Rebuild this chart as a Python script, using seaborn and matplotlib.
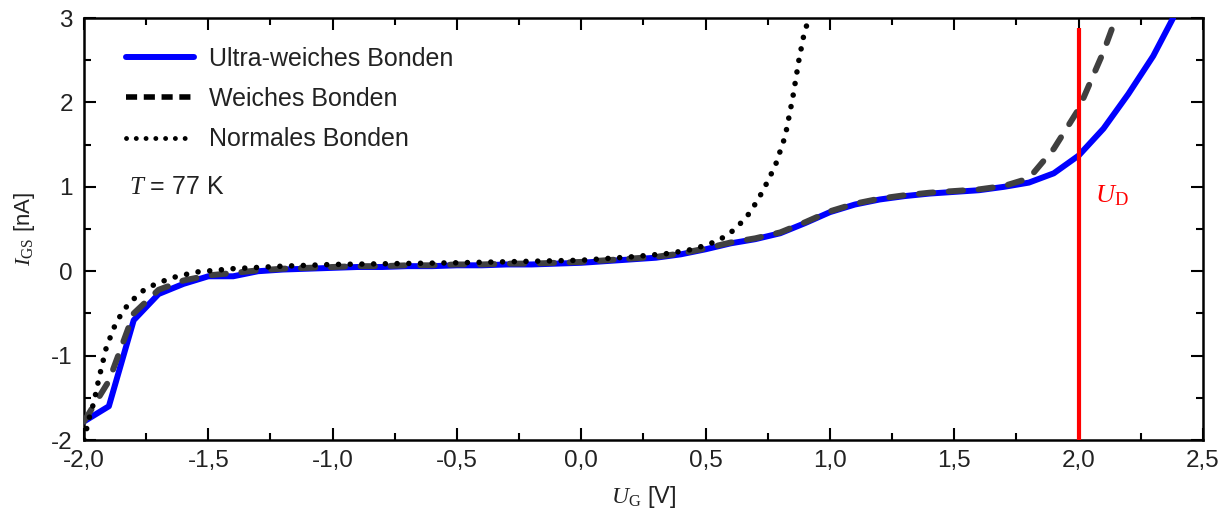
import numpy as np
import pandas as pd
import seaborn as sns
import matplotlib
matplotlib.use("Agg")
import matplotlib.pyplot as plt
from matplotlib.lines import Line2D
from matplotlib.ticker import FixedLocator, FixedFormatter, MultipleLocator

# ---- data ----
ultra_x = [-2.0, -1.9, -1.8, -1.7, -1.6, -1.5, -1.4, -1.3, -1.2, -1.1, -1.0, -0.9, -0.8, -0.7,
           -0.6, -0.5, -0.4, -0.3, -0.2, -0.1, 0.0, 0.1, 0.2, 0.3, 0.4, 0.5, 0.6, 0.7, 0.8, 0.9,
           1.0, 1.1, 1.2, 1.3, 1.4, 1.5, 1.6, 1.7, 1.8, 1.9, 2.0, 2.1, 2.2, 2.3, 2.38]
ultra_y = [-1.78, -1.60, -0.58, -0.27, -0.15, -0.06, -0.06, 0.0, 0.02, 0.03, 0.04, 0.05, 0.05, 0.06,
           0.06, 0.07, 0.07, 0.08, 0.08, 0.09, 0.10, 0.12, 0.14, 0.16, 0.20, 0.26, 0.33, 0.38, 0.45, 0.57,
           0.70, 0.79, 0.85, 0.89, 0.92, 0.94, 0.96, 1.00, 1.05, 1.16, 1.37, 1.69, 2.10, 2.55, 3.0]

weich_x = [-2.0, -1.9, -1.8, -1.7, -1.6, -1.5, -1.4, -1.3, -1.2, -1.1, -1.0, -0.9, -0.8, -0.7,
           -0.6, -0.5, -0.4, -0.3, -0.2, -0.1, 0.0, 0.1, 0.2, 0.3, 0.4, 0.5, 0.6, 0.7, 0.8, 0.9,
           1.0, 1.1, 1.2, 1.3, 1.4, 1.5, 1.6, 1.7, 1.8, 1.9, 2.0, 2.1, 2.15]
weich_y = [-1.78, -1.30, -0.50, -0.22, -0.11, -0.05, -0.02, 0.01, 0.03, 0.04, 0.05, 0.06, 0.06, 0.07,
           0.07, 0.08, 0.08, 0.09, 0.09, 0.10, 0.11, 0.13, 0.15, 0.17, 0.21, 0.27, 0.34, 0.39, 0.46, 0.58,
           0.71, 0.80, 0.86, 0.90, 0.93, 0.95, 0.97, 1.01, 1.10, 1.45, 1.92, 2.60, 3.0]

normal_x = [-2.0, -1.98, -1.96, -1.94, -1.91, -1.87, -1.82, -1.75, -1.65, -1.55, -1.4, -1.2, -1.0,
            -0.5, 0.0, 0.2, 0.35, 0.45, 0.55, 0.62, 0.68, 0.73, 0.78, 0.82, 0.85, 0.875, 0.895, 0.91]
normal_y = [-2.0, -1.75, -1.55, -1.27, -0.90, -0.60, -0.38, -0.20, -0.08, -0.01, 0.03, 0.06, 0.08,
            0.10, 0.13, 0.17, 0.21, 0.26, 0.36, 0.50, 0.70, 0.95, 1.25, 1.60, 2.05, 2.50, 2.80, 2.95]

series_labels = ["Ultra-weiches Bonden", "Weiches Bonden", "Normales Bonden"]
ud_x = 2.0
ud_y = [-2.0, 2.88]

xticks = [-2.0, -1.5, -1.0, -0.5, 0.0, 0.5, 1.0, 1.5, 2.0, 2.5]
xtick_labels = ["-2,0", "-1,5", "-1,0", "-0,5", "0,0", "0,5", "1,0", "1,5", "2,0", "2,5"]
yticks = [-2, -1, 0, 1, 2, 3]
ytick_labels = ["-2", "-1", "0", "1", "2", "3"]

# ---- style ----
sns.set_theme(style="ticks")
plt.rcParams["font.family"] = ["Liberation Sans", "DejaVu Sans"]
plt.rcParams["mathtext.fontset"] = "custom"
plt.rcParams["mathtext.rm"] = "Liberation Serif"
plt.rcParams["mathtext.it"] = "Liberation Serif:italic"

TXT = "#222222"

fig = plt.figure(figsize=(12.28, 5.15), dpi=100)
ax = fig.add_axes([0.0684, 0.1456, 0.9796 - 0.0684, 0.965 - 0.1456])

df_u = pd.DataFrame({"x": ultra_x, "y": ultra_y})
df_w = pd.DataFrame({"x": weich_x, "y": weich_y})
df_n = pd.DataFrame({"x": normal_x, "y": normal_y})

sns.lineplot(data=df_u, x="x", y="y", ax=ax, color="#0000ff", lw=4.3, sort=False,
             estimator=None, zorder=3)
sns.lineplot(data=df_w, x="x", y="y", ax=ax, color="#404040", lw=4.3, sort=False,
             estimator=None, zorder=4)
sns.lineplot(data=df_n, x="x", y="y", ax=ax, color="black", lw=4.0, sort=False,
             estimator=None, zorder=5)
lines = ax.get_lines()
lines[1].set_dashes((2.4, 2.6))
lines[1].set_dash_capstyle("round")
lines[2].set_dashes((0.01, 2.1))
lines[2].set_dash_capstyle("round")

ax.plot([ud_x, ud_x], ud_y, color="#ff0000", lw=3.0, zorder=6, solid_capstyle="butt")
ax.text(2.065, 0.9, r"$\mathit{U}_{\mathrm{D}}$", color="#ff0000", fontsize=19,
        ha="left", va="center")
ax.text(-1.82, 1.0, r"$\mathit{T}$ = 77 K", fontsize=18, ha="left", va="center", color=TXT)

ax.set_xlim(-2.0, 2.5)
ax.set_ylim(-2.0, 3.0)
ax.xaxis.set_major_locator(FixedLocator(xticks))
ax.xaxis.set_major_formatter(FixedFormatter(xtick_labels))
ax.yaxis.set_major_locator(FixedLocator(yticks))
ax.yaxis.set_major_formatter(FixedFormatter(ytick_labels))
ax.xaxis.set_minor_locator(MultipleLocator(0.25))
ax.yaxis.set_minor_locator(MultipleLocator(0.5))
ax.tick_params(which="both", direction="in", top=True, right=True, labelsize=17.5,
               width=1.5, colors="black", labelcolor=TXT)
ax.tick_params(axis="x", which="major", pad=7)
ax.tick_params(axis="y", which="major", pad=8)
ax.tick_params(which="major", length=8.5)
ax.tick_params(which="minor", length=5)
for s in ax.spines.values():
    s.set_linewidth(1.8)
    s.set_color("black")

ax.set_xlabel(r"$\mathit{U}_{\mathrm{G}}$ [V]", fontsize=17, labelpad=9, color=TXT)
ax.set_ylabel(r"$\mathit{I}_{\mathrm{GS}}$ [nA]", fontsize=16, labelpad=10, color=TXT)

handles = [Line2D([], [], color="#0000ff", lw=4.3),
           Line2D([], [], color="black", lw=4.0, dashes=(2.0, 1.2)),
           Line2D([], [], color="black", lw=3.5, dashes=(0.01, 2.0), dash_capstyle="round")]
leg = ax.legend(handles, series_labels, loc="upper left", frameon=False, fontsize=18,
                handlelength=2.75, handletextpad=0.6, labelspacing=0.65,
                bbox_to_anchor=(0.017, 0.985))
for t in leg.get_texts():
    t.set_color(TXT)

fig.savefig("out.png", dpi=100)
